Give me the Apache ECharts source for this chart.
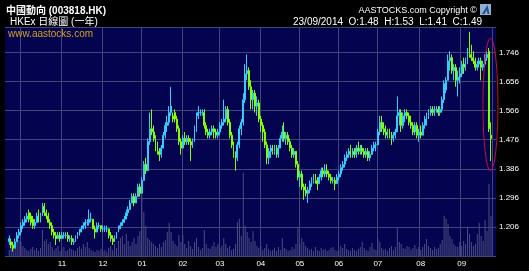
<!DOCTYPE html>
<html><head><meta charset="utf-8">
<script src="https://cdn.jsdelivr.net/npm/echarts@6/dist/echarts.min.js"></script>
<style>html,body{margin:0;padding:0;background:#000;}#c{width:529px;height:271px;}</style>
</head><body><div id="c"></div>
<script>
const stockName = '中國動向';
const stockCode = '003818.HK';
const subtitle = 'HKEx 日線圖 (一年)';
const siteText = 'www.aastocks.com';
const copyrightText = 'AASTOCKS.com Copyright ©';
const startDay = [2013, 9, 23];
const endDay = [2014, 9, 23];
const holidays = ['2013-10-01','2013-10-14','2013-12-25','2013-12-26','2014-01-01','2014-01-31','2014-02-03',
  '2014-04-18','2014-04-21','2014-05-01','2014-05-06','2014-06-02','2014-07-01','2014-09-09'];
const monthLabels = ['11','12','01','02','03','04','05','06','07','08','09'];
const priceTicks = [1.206,1.296,1.386,1.476,1.566,1.656,1.746];

const open = [
1.16,1.16,1.15,1.14,1.16,1.18,1.19,1.21,1.22,1.23,
1.25,1.24,1.23,1.21,1.22,1.24,1.23,1.24,1.27,1.25,
1.24,1.22,1.21,1.19,1.18,1.17,1.18,1.17,1.18,1.18,
1.18,1.17,1.17,1.16,1.16,1.17,1.18,1.19,1.20,1.21,
1.22,1.22,1.23,1.23,1.20,1.19,1.21,1.21,1.20,1.20,
1.20,1.20,1.18,1.17,1.16,1.17,1.19,1.20,1.21,1.22,
1.23,1.25,1.26,1.28,1.30,1.28,1.30,1.33,1.31,1.35,
1.40,1.38,1.47,1.51,1.50,1.48,1.45,1.44,1.43,1.45,
1.49,1.52,1.53,1.56,1.54,1.56,1.54,1.51,1.47,1.45,
1.48,1.47,1.48,1.47,1.46,1.47,1.51,1.55,1.56,1.56,
1.56,1.52,1.50,1.49,1.50,1.51,1.50,1.49,1.50,1.52,
1.53,1.54,1.57,1.53,1.49,1.46,1.43,1.42,1.46,1.51,
1.53,1.60,1.68,1.69,1.64,1.60,1.62,1.58,1.59,1.54,
1.52,1.50,1.46,1.42,1.44,1.45,1.44,1.45,1.43,1.45,
1.48,1.50,1.48,1.49,1.47,1.45,1.43,1.44,1.40,1.36,
1.37,1.33,1.32,1.31,1.32,1.34,1.35,1.36,1.35,1.34,
1.36,1.38,1.37,1.38,1.37,1.36,1.35,1.35,1.34,1.36,
1.37,1.39,1.40,1.42,1.43,1.44,1.43,1.44,1.43,1.45,
1.44,1.45,1.44,1.43,1.44,1.42,1.43,1.45,1.46,1.46,
1.50,1.53,1.51,1.50,1.49,1.50,1.49,1.48,1.49,1.50,
1.55,1.56,1.52,1.55,1.56,1.55,1.53,1.52,1.50,1.52,
1.49,1.50,1.49,1.52,1.54,1.55,1.56,1.57,1.56,1.57,
1.57,1.56,1.57,1.60,1.63,1.66,1.72,1.73,1.69,1.70,
1.66,1.67,1.68,1.71,1.70,1.72,1.75,1.74,1.73,1.72,
1.70,1.71,1.72,1.70,1.71,1.73,1.75,1.48];
const high = [
1.18,1.17,1.16,1.17,1.19,1.20,1.22,1.23,1.24,1.25,
1.26,1.25,1.24,1.23,1.25,1.26,1.25,1.28,1.28,1.26,
1.25,1.23,1.22,1.20,1.19,1.19,1.19,1.19,1.19,1.19,
1.19,1.18,1.18,1.17,1.18,1.19,1.20,1.21,1.22,1.23,
1.23,1.26,1.25,1.23,1.21,1.22,1.22,1.21,1.21,1.21,
1.21,1.20,1.19,1.18,1.18,1.19,1.21,1.22,1.23,1.24,
1.26,1.27,1.29,1.31,1.31,1.31,1.34,1.34,1.36,1.41,
1.42,1.48,1.56,1.57,1.52,1.49,1.47,1.45,1.46,1.50,
1.53,1.55,1.58,1.64,1.56,1.57,1.55,1.52,1.48,1.49,
1.50,1.49,1.49,1.48,1.48,1.52,1.56,1.58,1.57,1.57,
1.57,1.53,1.51,1.51,1.52,1.52,1.51,1.51,1.53,1.54,
1.60,1.58,1.58,1.54,1.50,1.47,1.44,1.47,1.52,1.54,
1.62,1.71,1.74,1.70,1.66,1.63,1.63,1.61,1.60,1.55,
1.53,1.51,1.47,1.45,1.46,1.46,1.46,1.46,1.46,1.49,
1.52,1.53,1.50,1.50,1.48,1.46,1.45,1.44,1.41,1.38,
1.38,1.34,1.34,1.33,1.35,1.36,1.37,1.37,1.36,1.37,
1.39,1.39,1.40,1.40,1.38,1.37,1.36,1.36,1.37,1.38,
1.40,1.41,1.43,1.44,1.45,1.46,1.45,1.45,1.46,1.47,
1.46,1.46,1.45,1.45,1.45,1.44,1.46,1.47,1.47,1.51,
1.55,1.55,1.53,1.52,1.51,1.51,1.50,1.50,1.51,1.61,
1.57,1.57,1.56,1.57,1.57,1.56,1.55,1.53,1.53,1.53,
1.51,1.52,1.53,1.55,1.56,1.57,1.58,1.58,1.58,1.58,
1.58,1.58,1.61,1.66,1.67,1.74,1.75,1.74,1.71,1.71,
1.69,1.70,1.72,1.73,1.73,1.76,1.81,1.77,1.75,1.73,
1.72,1.73,1.73,1.72,1.74,1.75,1.76,1.53];
const low = [
1.15,1.14,1.13,1.14,1.16,1.17,1.18,1.20,1.21,1.22,
1.22,1.21,1.20,1.20,1.22,1.22,1.22,1.24,1.24,1.23,
1.22,1.20,1.18,1.17,1.15,1.17,1.16,1.17,1.17,1.17,
1.16,1.16,1.15,1.15,1.16,1.17,1.18,1.19,1.20,1.20,
1.21,1.21,1.22,1.20,1.17,1.19,1.20,1.19,1.19,1.19,
1.19,1.17,1.16,1.15,1.16,1.17,1.19,1.20,1.21,1.22,
1.23,1.24,1.26,1.28,1.27,1.28,1.30,1.30,1.31,1.35,
1.37,1.38,1.46,1.49,1.47,1.44,1.43,1.41,1.42,1.45,
1.48,1.50,1.52,1.55,1.53,1.53,1.50,1.46,1.43,1.45,
1.46,1.46,1.46,1.41,1.45,1.47,1.50,1.54,1.55,1.55,
1.51,1.49,1.48,1.48,1.49,1.48,1.48,1.48,1.49,1.51,
1.52,1.53,1.52,1.48,1.45,1.42,1.38,1.41,1.45,1.49,
1.52,1.59,1.66,1.63,1.57,1.57,1.56,1.55,1.53,1.50,
1.47,1.45,1.40,1.40,1.42,1.43,1.43,1.42,1.42,1.45,
1.47,1.47,1.46,1.46,1.44,1.42,1.42,1.39,1.35,1.33,
1.32,1.29,1.30,1.28,1.31,1.33,1.34,1.34,1.32,1.34,
1.35,1.36,1.36,1.36,1.35,1.34,1.34,1.32,1.34,1.35,
1.36,1.38,1.39,1.41,1.42,1.42,1.42,1.42,1.42,1.43,
1.43,1.43,1.42,1.42,1.41,1.41,1.43,1.44,1.44,1.46,
1.49,1.50,1.49,1.48,1.48,1.48,1.46,1.47,1.48,1.50,
1.52,1.50,1.51,1.53,1.54,1.52,1.51,1.49,1.49,1.48,
1.47,1.48,1.49,1.51,1.52,1.54,1.55,1.55,1.55,1.56,
1.55,1.55,1.56,1.59,1.62,1.66,1.69,1.68,1.66,1.64,
1.61,1.65,1.67,1.68,1.69,1.71,1.73,1.72,1.71,1.69,
1.69,1.70,1.66,1.69,1.70,1.72,1.50,1.41];
const close = [
1.17,1.15,1.14,1.16,1.18,1.19,1.21,1.22,1.23,1.24,
1.23,1.22,1.21,1.22,1.24,1.23,1.24,1.27,1.25,1.24,
1.22,1.21,1.19,1.18,1.17,1.18,1.17,1.18,1.18,1.18,
1.17,1.17,1.16,1.16,1.17,1.18,1.19,1.20,1.21,1.22,
1.22,1.23,1.23,1.20,1.19,1.21,1.21,1.20,1.20,1.20,
1.20,1.18,1.17,1.16,1.17,1.19,1.20,1.21,1.22,1.23,
1.25,1.26,1.28,1.30,1.28,1.30,1.33,1.31,1.35,1.40,
1.38,1.47,1.51,1.50,1.48,1.45,1.44,1.43,1.45,1.49,
1.52,1.53,1.56,1.58,1.55,1.54,1.51,1.47,1.45,1.48,
1.47,1.48,1.47,1.46,1.47,1.51,1.55,1.56,1.56,1.56,
1.52,1.50,1.49,1.50,1.51,1.50,1.49,1.50,1.52,1.53,
1.54,1.57,1.53,1.49,1.46,1.43,1.42,1.46,1.51,1.53,
1.60,1.68,1.69,1.64,1.60,1.62,1.58,1.59,1.54,1.52,
1.50,1.46,1.42,1.44,1.45,1.44,1.45,1.43,1.45,1.48,
1.50,1.48,1.49,1.47,1.45,1.43,1.44,1.40,1.36,1.37,
1.33,1.32,1.31,1.32,1.34,1.35,1.36,1.35,1.34,1.36,
1.38,1.37,1.38,1.37,1.36,1.35,1.35,1.34,1.36,1.37,
1.39,1.40,1.42,1.43,1.44,1.43,1.44,1.43,1.45,1.44,
1.45,1.44,1.43,1.44,1.42,1.43,1.45,1.46,1.46,1.50,
1.53,1.51,1.50,1.49,1.50,1.49,1.48,1.49,1.50,1.55,
1.56,1.52,1.55,1.56,1.55,1.53,1.52,1.50,1.52,1.49,
1.50,1.49,1.52,1.54,1.55,1.56,1.57,1.56,1.57,1.57,
1.56,1.57,1.60,1.65,1.66,1.72,1.73,1.69,1.70,1.66,
1.67,1.68,1.71,1.70,1.72,1.75,1.74,1.73,1.72,1.70,
1.71,1.72,1.70,1.71,1.73,1.74,1.51,1.49];
// volume, in units of 100,000 shares
const volume = [
30,50,60,40,70,80,
70,50,40,30,25,35,45,30,40,25,40,
130,
75,85,60,70,45,
30,40,50,25,35,45,25,30,40,35,
30,25,40,50,35,60,45,70,40,30,25,20,30,25,35,
25,30,20,40,50,30,60,40,75,90,100,60,
110,75,50,70,90,60,100,125,
300,220,150,
90,80,70,60,50,40,60,45,
70,80,120,165,120,75,60,50,105,70,
105,60,40,75,50,35,70,90,45,30,40,130,60,40,35,50,70,45,60,
40,50,90,60,40,50,30,35,60,170,185,100,415,150,120,90,70,125,75,50,40,
50,30,40,60,35,25,30,40,25,45,30,90,40,35,25,30,45,35,60,145,
60,90,70,50,40,30,35,25,45,30,25,40,30,35,25,30,40,45,30,25,
30,50,40,60,35,30,25,40,30,25,35,45,70,40,30,25,45,65,35,30,
90,70,40,30,35,25,40,50,30,45,140,70,60,40,35,50,45,30,40,55,35,45,
30,45,60,85,50,40,30,45,35,40,60,80,200,185,160,100,85,60,50,45,70,
50,75,60,145,110,70,50,60,110,165,100,75,180,125,360,200];

// trading-day calendar
const days = [];
for (let t = Date.UTC(startDay[0], startDay[1]-1, startDay[2]); t <= Date.UTC(endDay[0], endDay[1]-1, endDay[2]); t += 86400000) {
  const d = new Date(t), wd = d.getUTCDay(), s = d.toISOString().slice(0,10);
  if (wd === 0 || wd === 6 || holidays.includes(s)) continue;
  days.push(s);
}
const monthStart = new Set(), labelIdx = new Set();
days.forEach((d, i) => {
  if (i > 0 && d.slice(0,7) !== days[i-1].slice(0,7)) {
    monthStart.add(i);
    if (monthLabels.includes(d.slice(5,7))) labelIdx.add(i);
  }
});

const BG = '#030350', GRIDC = '#43437c', LIME = '#80ff00', CYAN = '#33ccff', VOLC = '#4c4c80';
const FONT = '"Liberation Sans", "Noto Sans CJK TC", sans-serif';

const candles = days.map((d, i) => {
  const prev = i ? close[i-1] : open[i];
  const col = close[i] < prev ? LIME : CYAN;
  return { value: [open[i], close[i], low[i], high[i]],
    itemStyle: { color: col, color0: col, borderColor: col, borderColor0: col, borderColorDoji: col } };
});

const interval = +(priceTicks[1] - priceTicks[0]).toFixed(3);
const yMin = +(priceTicks[0] - interval).toFixed(3);
const yMax = 1.825;

const n = close.length;
const last = n - 1;
const ld = days[last];
const infoText = `${ld.slice(8,10)}/${ld.slice(5,7)}/${ld.slice(0,4)}  O:${open[last].toFixed(2)}  H:${high[last].toFixed(2)}  L:${low[last].toFixed(2)}  C:${close[last].toFixed(2)}`;

const chart = echarts.init(document.getElementById('c'), null, { renderer: 'canvas', width: 529, height: 271 });
chart.setOption({
  animation: false,
  backgroundColor: '#000000',
  grid: [
    { left: 5, right: 33, top: 27, bottom: 15, show: true, backgroundColor: BG, borderWidth: 0 },
    { left: 8.3, right: 37.1, top: 27, bottom: 15 }
  ],
  xAxis: [
    { gridIndex: 0, type: 'value', min: 0, max: 1, show: false },
    { gridIndex: 1, type: 'category', data: days, boundaryGap: true,
      axisLine: { show: false }, axisTick: { show: false },
      axisLabel: { interval: (i) => labelIdx.has(i), formatter: (v) => v.slice(5,7),
        color: '#ffffff', fontSize: 8, margin: 4, fontFamily: FONT },
      splitLine: { show: true, interval: (i) => monthStart.has(i), lineStyle: { color: GRIDC, width: 1 } } }
  ],
  yAxis: [
    { gridIndex: 0, type: 'value', position: 'right', min: yMin, max: yMax, interval: interval,
      axisLine: { show: false }, axisTick: { show: false },
      axisLabel: { color: '#ffffff', fontSize: 8, margin: 3, fontFamily: FONT,
        showMinLabel: false, showMaxLabel: false, formatter: (v) => v.toFixed(3) },
      splitLine: { show: true, lineStyle: { color: GRIDC, width: 1 } } },
    { gridIndex: 1, type: 'value', min: yMin, max: yMax, show: false },
    { gridIndex: 1, type: 'value', min: 0, max: 1140, show: false }
  ],
  series: [
    { type: 'bar', xAxisIndex: 1, yAxisIndex: 2, data: volume, barWidth: 1, silent: true, z: 1,
      itemStyle: { color: VOLC } },
    { type: 'candlestick', xAxisIndex: 1, yAxisIndex: 1, data: candles, barWidth: 1.35, z: 2,
      itemStyle: { color: CYAN, color0: LIME, borderColor: CYAN, borderColor0: LIME, borderColorDoji: CYAN, borderWidth: 1 } }
  ],
  graphic: { elements: [
    { type: 'text', x: 6, y: 11.5, style: { text: `${stockName} (${stockCode})`, fill: '#ffffff',
      font: 'bold 10px ' + FONT, textVerticalAlign: 'middle' } },
    { type: 'text', x: 10, y: 22.5, style: { text: subtitle, fill: '#ffffff',
      font: '10px ' + FONT, textVerticalAlign: 'middle' } },
    { type: 'text', x: 8, y: 34.5, z: 10, style: { text: siteText, fill: '#d4a21c',
      font: '10px ' + FONT, textVerticalAlign: 'middle' } },
    { type: 'text', x: 477, y: 10.5, style: { text: copyrightText, fill: '#ffffff',
      font: '9px ' + FONT, textAlign: 'right', textVerticalAlign: 'middle' } },
    { type: 'rect', shape: { x: 480, y: 4, width: 11, height: 11 }, style: { fill: '#8fb0cf' } },
    { type: 'polygon', shape: { points: [[482,14],[487.5,5],[489.5,14],[487.5,14],[486.8,10],[484.5,14]] }, style: { fill: '#1d4f93' } },
    { type: 'text', x: 482, y: 22.5, style: { text: infoText, fill: '#ffffff',
      font: '10px ' + FONT, textAlign: 'right', textVerticalAlign: 'middle' } }
  ] }
});

// highlight ring around the last two sessions
const topP = chart.convertToPixel({ gridIndex: 1 }, [n-2, Math.max(high[n-2], high[n-1]) + 0.03]);
const botP = chart.convertToPixel({ gridIndex: 1 }, [n-1, Math.min(low[n-2], low[n-1]) - 0.03]);
chart.setOption({ graphic: { elements: [
  { id: 'ring', type: 'ellipse', z: 20,
    shape: { cx: (topP[0] + botP[0]) / 2 + 0.5, cy: (topP[1] + botP[1]) / 2, rx: 7.5, ry: (botP[1] - topP[1]) / 2 },
    style: { fill: 'none', stroke: '#cc1030', lineWidth: 1 } }
] } });
</script></body></html>
